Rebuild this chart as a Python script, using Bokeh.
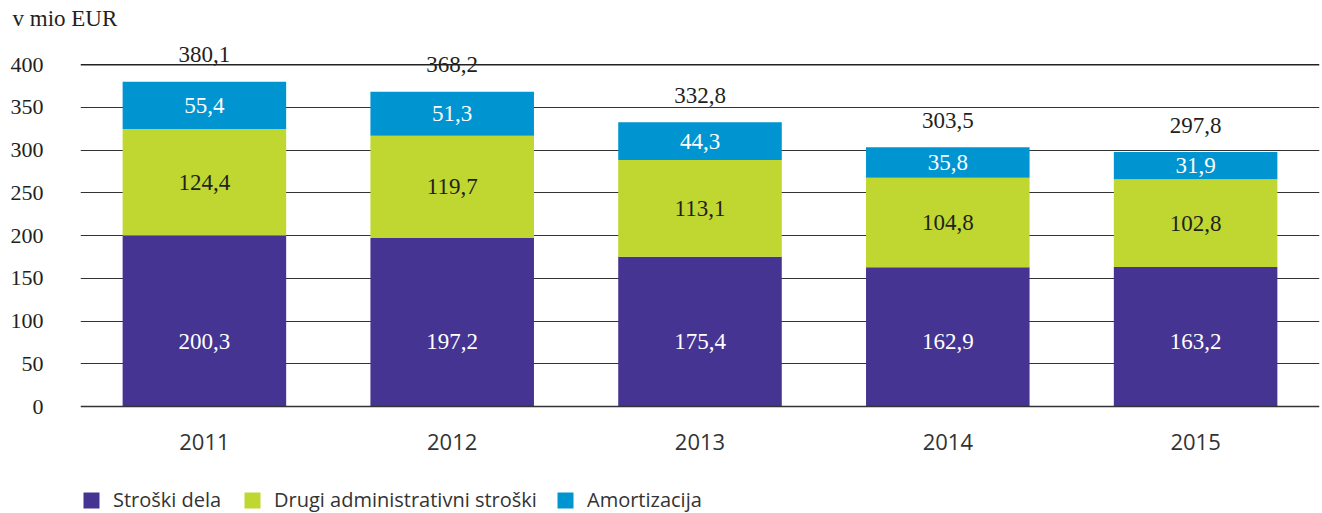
from bokeh.plotting import figure
from bokeh.models import ColumnDataSource, LabelSet, Legend, LegendItem, FactorRange, Range1d, FixedTicker, Span
from bokeh.embed import file_html
from bokeh.resources import INLINE

years = ["2011", "2012", "2013", "2014", "2015"]
stroski_dela = [200.3, 197.2, 175.4, 162.9, 163.2]
drugi_admin = [124.4, 119.7, 113.1, 104.8, 102.8]
amortizacija = [55.4, 51.3, 44.3, 35.8, 31.9]
totals = [380.1, 368.2, 332.8, 303.5, 297.8]
y_ticks = [0, 50, 100, 150, 200, 250, 300, 350, 400]
series_names = ["Stroški dela", "Drugi administrativni stroški", "Amortizacija"]
unit_label = "v mio EUR"

PURPLE = "#453492"
GREEN = "#bfd730"
BLUE = "#0095d1"
DARK = "#231f20"
SERIF = "Liberation Serif"
SANS = "Open Sans"


def fmt(v):
    return f"{v:.1f}".replace(".", ",")


src = ColumnDataSource(dict(
    year=years,
    dela=stroski_dela,
    drugi=drugi_admin,
    amort=amortizacija,
    total=totals,
    zero=[0 for _ in years],
    mid_drugi=[a + b / 2 for a, b in zip(stroski_dela, drugi_admin)],
    mid_amort=[a + b + c / 2 for a, b, c in zip(stroski_dela, drugi_admin, amortizacija)],
    lab_dela=[fmt(v) for v in stroski_dela],
    lab_drugi=[fmt(v) for v in drugi_admin],
    lab_amort=[fmt(v) for v in amortizacija],
    lab_total=[fmt(v) for v in totals],
))

p = figure(
    width=1322, height=513,
    x_range=FactorRange(*years, range_padding=0),
    y_range=Range1d(-125.1, 440),
    output_backend="svg", toolbar_location=None,
    min_border_left=80, min_border_right=3, min_border_top=30, min_border_bottom=0,
    title=unit_label,
)
p.outline_line_color = None
p.background_fill_color = "white"
p.border_fill_color = "white"

# title used as the unit caption, top-left
p.title.align = "left"
p.title.offset = -68
p.title.standoff = 0
p.title.text_font = SERIF
p.title.text_font_size = "23px"
p.title.text_font_style = "normal"
p.title.text_color = DARK

renderers = p.vbar_stack(["dela", "drugi", "amort"], x="year", width=0.66, source=src,
                         color=[PURPLE, GREEN, BLUE], line_color=None)

# grid
p.xgrid.grid_line_color = None
p.ygrid.ticker = FixedTicker(ticks=[t for t in y_ticks if 0 < t < 400])
p.ygrid.grid_line_color = "#333333"
p.ygrid.grid_line_width = 1
p.add_layout(Span(location=y_ticks[-1], dimension="width", line_color="#222222", line_width=1.6))

# y axis
p.yaxis.ticker = FixedTicker(ticks=y_ticks)
p.yaxis.axis_line_color = None
p.yaxis.major_tick_line_color = None
p.yaxis.minor_tick_line_color = None
p.yaxis.major_label_text_font = SERIF
p.yaxis.major_label_text_font_size = "22px"
p.yaxis.major_label_text_color = DARK
p.yaxis.major_label_standoff = 31

# x axis, fixed at value 0 inside the frame
p.xaxis.fixed_location = 0
p.xaxis.axis_line_color = "#333333"
p.xaxis.axis_line_width = 1.3
p.xaxis.major_tick_line_color = None
p.xaxis.minor_tick_line_color = None
p.xaxis.major_label_text_font = SANS
p.xaxis.major_label_text_font_size = "22px"
p.xaxis.major_label_text_color = "#333333"
p.xaxis.major_label_standoff = 21

common = dict(x="year", source=src, text_align="center", text_baseline="middle",
              text_font=SERIF, text_font_size="23px")
p.add_layout(LabelSet(y="zero", text="lab_dela", y_offset=65, text_color="white", **common))
p.add_layout(LabelSet(y="mid_drugi", text="lab_drugi", text_color=DARK, **common))
p.add_layout(LabelSet(y="mid_amort", text="lab_amort", text_color="white", **common))
p.add_layout(LabelSet(y="total", text="lab_total", y_offset=27, text_color=DARK, **common))

legend_x = [1, 162, 475]
for n, r, lx in zip(series_names, renderers, legend_x):
    lg = Legend(
        items=[LegendItem(label=n, renderers=[r])],
        orientation="horizontal", location=(lx, 0),
        glyph_width=20, glyph_height=20, label_standoff=12, spacing=0,
        label_text_font=SANS, label_text_font_size="20px", label_text_color="#333333",
        border_line_color=None, background_fill_alpha=0, padding=0, margin=0,
    )
    p.add_layout(lg, "center")

open("out.html", "w").write(file_html(p, INLINE))
